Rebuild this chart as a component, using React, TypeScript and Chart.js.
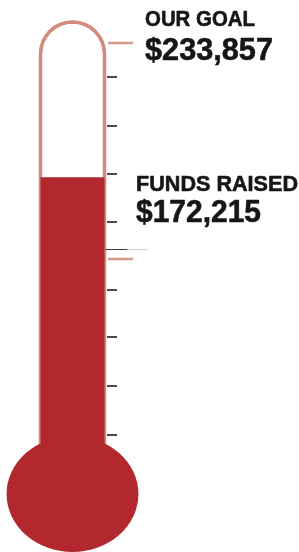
import React, { useEffect, useRef } from "react";
import { Chart, registerables } from "chart.js";

Chart.register(...registerables);

// ---- data ----
const CATEGORIES = ["Funds"];
const GOAL = 233857;
const RAISED = 172215;
const SCALE_MAX = 244500; // capacity of the tube (top of the glass)
const BULB_BASE = 26650; // where the tube enters the bulb
const TICK_VALUES = [218300, 195800, 173700, 151700, 120400, 98800, 76300, 53800];
const MARKER_VALUES = [GOAL, 134700];
const RULE_VALUES = [139300];
const LABELS = ["OUR GOAL", "FUNDS RAISED"];

const fmt = (v: number) => "$" + v.toLocaleString("en-US");

const RED = "#b3282f";
const GLASS = "#d38b7f";

const thermoPlugin = {
  id: "thermo",
  afterDatasetsDraw(chart: any) {
    const ctx = chart.ctx;
    const fillBar = chart.getDatasetMeta(0).data[0];
    const y = chart.scales.y;
    const cy = y.getPixelForValue(BULB_BASE);
    const rx = fillBar.width * 1.03;
    const ry = chart.chartArea.bottom - cy;
    ctx.save();
    ctx.fillStyle = RED;
    ctx.beginPath();
    ctx.ellipse(fillBar.x, cy, rx, ry, 0, 0, Math.PI * 2);
    ctx.fill();
    ctx.restore();
  },
  afterDraw(chart: any) {
    const ctx = chart.ctx;
    const y = chart.scales.y;
    const tube = chart.getDatasetMeta(1).data[0];
    const right = tube.x + tube.width / 2;
    ctx.save();
    // dark ticks
    ctx.strokeStyle = "#4a4a4a";
    ctx.lineWidth = 2;
    TICK_VALUES.forEach((v) => {
      const py = Math.round(y.getPixelForValue(v));
      ctx.beginPath();
      ctx.moveTo(right + 0.5, py);
      ctx.lineTo(right + 10.5, py);
      ctx.stroke();
    });
    // pink markers
    ctx.strokeStyle = "#d9998b";
    ctx.lineWidth = 2.5;
    MARKER_VALUES.forEach((v) => {
      const py = Math.round(y.getPixelForValue(v));
      ctx.beginPath();
      ctx.moveTo(right + 1.5, py);
      ctx.lineTo(right + 26.5, py);
      ctx.stroke();
    });
    // thin rule
    ctx.lineWidth = 1;
    RULE_VALUES.forEach((v) => {
      const py = Math.round(y.getPixelForValue(v)) + 0.5;
      ctx.strokeStyle = "#3a3a3a";
      ctx.beginPath();
      ctx.moveTo(right - 1, py);
      ctx.lineTo(right + 21, py);
      ctx.stroke();
      ctx.strokeStyle = "#d0d0d0";
      ctx.beginPath();
      ctx.moveTo(right + 21, py);
      ctx.lineTo(right + 41, py);
      ctx.stroke();
    });
    // texts
    const txt = (s: string, x: number, yy: number, w: number) => {
      ctx.fillText(s, x, yy, w);
      ctx.strokeText(s, x, yy, w);
    };
    ctx.fillStyle = "#161616";
    ctx.strokeStyle = "#161616";
    ctx.lineWidth = 0.6;
    ctx.lineJoin = "round";
    ctx.textAlign = "left";
    ctx.textBaseline = "alphabetic";
    ctx.font = "bold 22px 'Liberation Sans', Arial, sans-serif";
    txt(LABELS[0], 145, 26, 110);
    txt(LABELS[1], 136, 191, 162);
    ctx.font = "bold 32px 'Liberation Sans', Arial, sans-serif";
    txt(fmt(GOAL), 145, 60, 128);
    txt(fmt(RAISED), 136, 222, 125);
    ctx.restore();
  },
};

export default function App() {
  const ref = useRef<HTMLCanvasElement | null>(null);
  useEffect(() => {
    document.body.style.margin = "0";
    const chart = new Chart(ref.current as HTMLCanvasElement, {
      type: "bar",
      data: {
        labels: CATEGORIES,
        datasets: [
          {
            label: "Raised",
            data: [[BULB_BASE, RAISED]],
            backgroundColor: RED,
            borderWidth: 0,
            barPercentage: 64 / 145,
            categoryPercentage: 1,
            grouped: false,
          } as any,
          {
            label: "Tube",
            data: [[BULB_BASE, SCALE_MAX]],
            backgroundColor: "#ffffff",
            borderColor: GLASS,
            borderWidth: 4,
            borderSkipped: "bottom",
            borderRadius: { topLeft: 34, topRight: 34, bottomLeft: 0, bottomRight: 0 },
            barPercentage: 68 / 145,
            categoryPercentage: 1,
            grouped: false,
          } as any,
        ],
      },
      options: {
        animation: false,
        responsive: false,
        devicePixelRatio: 1,
        layout: { padding: { top: 20, right: 154, left: 0, bottom: 0 } },
        plugins: { legend: { display: false }, tooltip: { enabled: false } },
        scales: {
          x: { display: false },
          y: { display: false, min: 0, max: SCALE_MAX },
        },
      },
      plugins: [thermoPlugin],
    });
    return () => chart.destroy();
  }, []);
  return (
    <div style={{ position: "fixed", left: 0, top: 0, width: 299, height: 552, background: "#fff" }}>
      <canvas ref={ref} width={299} height={552} style={{ display: "block" }} />
    </div>
  );
}
